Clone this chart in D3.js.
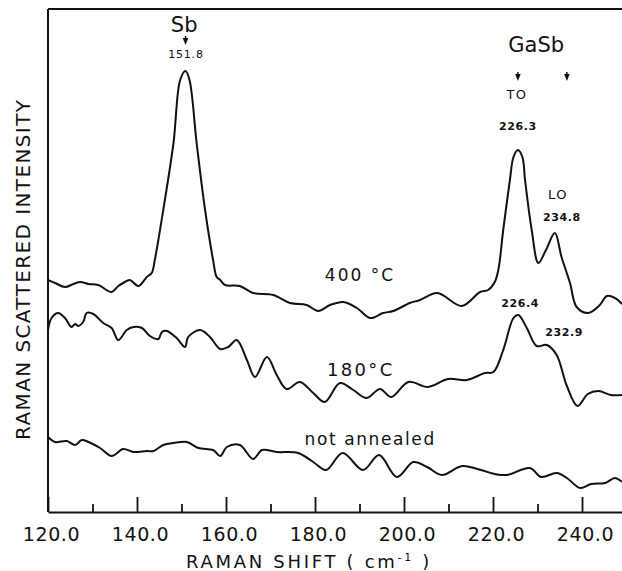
<!DOCTYPE html>
<html>
<head>
<meta charset="utf-8">
<script src="https://cdn.jsdelivr.net/npm/d3@7"></script>
<style>
body { margin: 0; background: #fff; }
svg { display: block; }
text { font-family: "DejaVu Sans", sans-serif; fill: #111; }
</style>
</head>
<body>
<script>
// Raman shift (cm-1) and intensity (arbitrary units)
var SHIFT_400 = [120.0, 121.6, 123.8, 125.7, 127.2, 129.1, 131.3, 134.3, 135.8, 136.9, 138.4, 140.3, 142.2, 143.3, 144.0, 145.9, 148.2, 149.7, 150.9, 151.8, 153.4, 155.3, 157.1, 157.9, 158.7, 159.8, 163.1, 166.1, 170.6, 174.4, 178.1, 180.7, 183.4, 186.4, 189.4, 192.4, 195.3, 197.6, 201.3, 203.6, 207.5, 213.0, 217.1, 218.9, 220.4, 221.2, 222.3, 223.8, 224.6, 225.6, 226.6, 227.2, 228.7, 230.2, 231.9, 233.9, 235.4, 237.3, 238.8, 241.4, 244.0, 245.6, 247.4, 249.0];
var INT_400 = [232, 229, 225, 228, 230, 228, 227, 220, 226, 229, 232, 226, 235, 239, 252, 302, 369, 432, 441, 432, 369, 302, 252, 235, 232, 227, 226, 219, 217, 209, 207, 201, 207, 210, 204, 194, 199, 201, 209, 212, 219, 206, 220, 222, 230, 242, 282, 332, 355, 362, 355, 332, 282, 249, 262, 279, 255, 229, 205, 199, 207, 216, 214, 208];

var SHIFT_180 = [120.0, 120.8, 122.3, 123.8, 125.3, 126.1, 126.8, 127.9, 128.7, 130.2, 132.4, 134.3, 135.8, 137.7, 139.2, 141.1, 142.9, 144.8, 145.6, 146.7, 148.9, 150.8, 151.5, 154.2, 156.4, 158.7, 160.5, 162.4, 164.7, 166.5, 169.2, 171.4, 173.6, 176.6, 179.6, 182.2, 185.6, 188.6, 191.6, 194.6, 197.1, 201.0, 205.4, 209.9, 214.1, 218.2, 220.1, 222.3, 224.6, 225.7, 227.6, 229.8, 232.1, 234.3, 236.6, 239.0, 241.3, 243.7, 246.5, 249.0];
var INT_180 = [182, 194, 199, 194, 185, 188, 186, 190, 199, 198, 189, 184, 172, 182, 185, 184, 176, 173, 180, 181, 174, 165, 175, 182, 175, 163, 165, 172, 152, 135, 155, 137, 123, 130, 119, 110, 129, 122, 114, 123, 115, 130, 125, 133, 132, 139, 140, 162, 194, 197, 184, 166, 167, 157, 126, 106, 118, 121, 117, 117];

var SHIFT_NA = [120.0, 121.6, 124.2, 126.1, 127.6, 129.1, 131.7, 134.3, 136.9, 139.2, 142.2, 143.7, 145.9, 148.2, 151.2, 153.8, 157.1, 158.7, 160.2, 163.1, 166.1, 168.1, 171.4, 176.2, 179.6, 182.5, 186.2, 190.8, 194.4, 198.4, 202.1, 205.2, 208.5, 213.1, 217.3, 220.4, 223.1, 228.3, 230.8, 234.3, 236.6, 239.6, 242.0, 245.2, 247.4, 249.0];
var INT_NA = [75, 70, 71, 67, 72, 70, 64, 56, 63, 60, 61, 61, 67, 69, 70, 64, 62, 56, 65, 67, 53, 62, 60, 59, 50, 42, 59, 42, 57, 35, 50, 45, 37, 46, 42, 38, 37, 44, 35, 39, 34, 24, 28, 29, 34, 30];

var MAJOR_TICKS = [120, 140, 160, 180, 200, 220, 240];
var MINOR_TICKS = [130, 150, 170, 190, 210, 230];
var TICK_LABELS = ["120.0", "140.0", "160.0", "180.0", "200.0", "220.0", "240.0"];

var W = 622, H = 571;
var margin = { top: 9, left: 48, bottom: 59 };

var svg = d3.select("body").append("svg").attr("width", W).attr("height", H);

var xScale = d3.scaleLinear().domain([120, 250]).range([margin.left, 626.5]);
var yScale = d3.scaleLinear().domain([0, 503]).range([H - margin.bottom, margin.top]);

// marco: arriba e izquierda
svg.append("line").attr("x1", xScale(120)).attr("x2", W).attr("y1", yScale(503)).attr("y2", yScale(503))
  .attr("stroke", "#111").attr("stroke-width", 2);
svg.append("line").attr("x1", xScale(120)).attr("x2", xScale(120)).attr("y1", yScale(503)).attr("y2", yScale(0))
  .attr("stroke", "#111").attr("stroke-width", 2);

// ejes
var xAxis = svg.append("g").attr("transform", "translate(0," + yScale(0) + ")")
  .call(d3.axisBottom(xScale).tickValues(MAJOR_TICKS).tickSize(-15).tickSizeOuter(0).tickPadding(16)
    .tickFormat(function (d, i) { return TICK_LABELS[i]; }));
xAxis.attr("font-family", null).attr("font-size", null);
xAxis.select(".domain").attr("stroke", "#111").attr("stroke-width", 2);
xAxis.selectAll(".tick line").attr("stroke", "#111").attr("stroke-width", 1.8);
xAxis.selectAll(".tick text").attr("font-size", 19).attr("dx", 3).style("letter-spacing", "0.6px");

var xMinor = svg.append("g").attr("transform", "translate(0," + yScale(0) + ")")
  .call(d3.axisBottom(xScale).tickValues(MINOR_TICKS).tickSize(-8).tickFormat(""));
xMinor.select(".domain").remove();
xMinor.selectAll(".tick line").attr("stroke", "#111").attr("stroke-width", 1.8);

// títulos de ejes
var xt = svg.append("text").attr("x", 309).attr("y", 568).attr("text-anchor", "middle")
  .attr("font-size", 18).style("letter-spacing", "2.7px");
xt.append("tspan").text("RAMAN SHIFT ( cm");
xt.append("tspan").attr("font-size", 11).attr("dy", -7).text("-1");
xt.append("tspan").attr("dy", 7).text(" )");

svg.append("text").attr("transform", "translate(30,270) rotate(-90)").attr("text-anchor", "middle")
  .attr("font-size", 20).attr("textLength", 340).attr("lengthAdjust", "spacing")
  .text("RAMAN  SCATTERED  INTENSITY");

// espectros
var line = d3.line()
  .x(function (d) { return xScale(d[0]); })
  .y(function (d) { return yScale(d[1]); })
  .curve(d3.curveCatmullRom.alpha(0.5));

[[SHIFT_400, INT_400], [SHIFT_180, INT_180], [SHIFT_NA, INT_NA]].forEach(function (s) {
  svg.append("path").datum(d3.zip(s[0], s[1])).attr("d", line)
    .attr("fill", "none").attr("stroke", "#111").attr("stroke-width", 2).attr("stroke-linejoin", "round");
});

// anotaciones
function label(txt, v, i, size, extra) {
  var t = svg.append("text").attr("x", xScale(v)).attr("y", yScale(i)).attr("text-anchor", "middle")
    .attr("font-size", size).text(txt);
  if (extra && extra.bold) t.attr("font-weight", "bold");
  if (extra && extra.ls) t.style("letter-spacing", extra.ls + "px");
  return t;
}

function arrow(v, i) {
  var x = xScale(v), y = yScale(i);
  svg.append("path").attr("d", "M" + x + "," + y + "V" + (y + 3)).attr("stroke", "#111").attr("stroke-width", 1.5);
  svg.append("path").attr("d", "M" + (x - 2.8) + "," + (y + 2) + "L" + (x + 2.8) + "," + (y + 2) + "L" + x + "," + (y + 9) + "Z")
    .attr("fill", "#111");
}

label("Sb", 150.6, 480, 21);
arrow(150.9, 476);
label("151.8", 151.0, 454, 11, { ls: 0.8 });

label("GaSb", 229.7, 460, 21);
arrow(225.6, 440);
arrow(236.6, 440);
label("TO", 225.4, 413, 13, { ls: 1.5 });
label("226.3", 225.6, 382, 11, { bold: true, ls: 0.6 });
label("LO", 234.6, 313, 13, { ls: 1.5 });
label("234.8", 235.5, 291, 11, { bold: true, ls: 0.6 });
label("226.4", 226.1, 205, 11, { bold: true, ls: 0.6 });
label("232.9", 236.0, 176, 11, { bold: true, ls: 0.6 });

label("400 °C", 190.1, 231, 17, { ls: 2 });
label("180°C", 190.3, 136, 18, { ls: 2.3 });
label("not  annealed", 192.4, 67, 17, { ls: 1.6 });
</script>
</body>
</html>
